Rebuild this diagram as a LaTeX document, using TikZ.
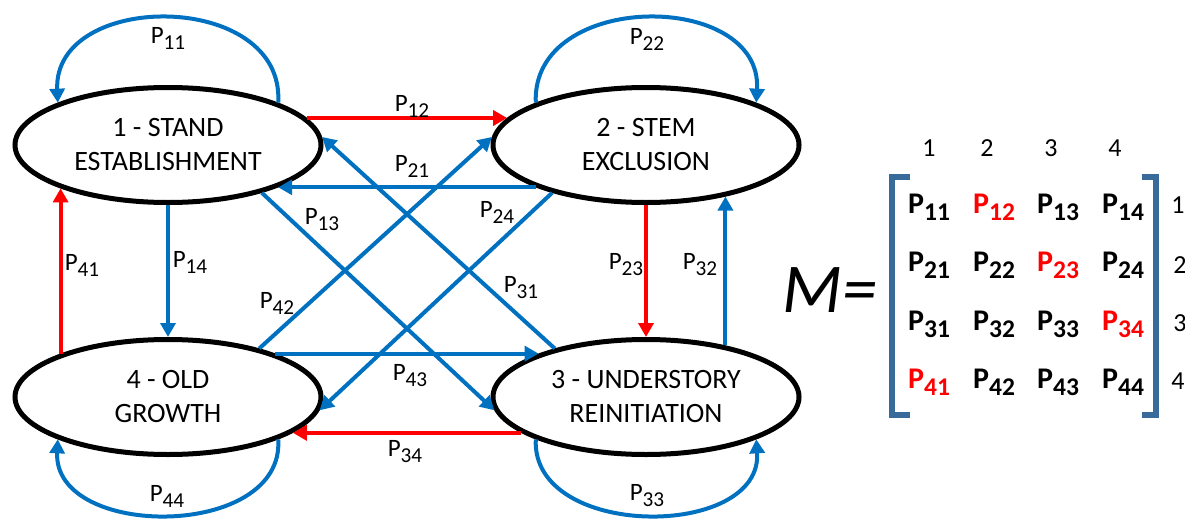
\documentclass[tikz,border=0pt]{standalone}
\usepackage{fontspec}
\setmainfont{Carlito}
\usepackage{tikz}
\usetikzlibrary{shapes,arrows.meta,positioning}
\definecolor{flowblue}{RGB}{0, 112, 192}
\definecolor{flowred}{RGB}{255, 0, 0}
\definecolor{bracketblue}{RGB}{56, 106, 154}

\newcommand{\pp}[1]{P\raisebox{-0.24em}{\scalebox{0.85}{#1}}}

\begin{document}
\begin{tikzpicture}[x=1pt, y=-1pt]
    \tikzstyle{state} = [draw=black, fill=white, line width=5pt, ellipse, minimum width=306pt, minimum height=115pt, inner sep=0pt, font=\fontsize{28}{34}\selectfont, align=center]
    \tikzstyle{plabel} = [font=\fontsize{25}{30}\selectfont, inner sep=0pt]
    \tikzstyle{barrow} = [line width=4pt, -{Triangle[length=14pt,width=15pt]}, flowblue]
    \tikzstyle{rarrow} = [line width=4pt, -{Triangle[length=14pt,width=15pt]}, flowred]
    \tikzstyle{entry} = [font=\fontsize{30}{36}\selectfont\bfseries, inner sep=0pt, anchor=base west]
    \tikzstyle{index} = [font=\fontsize{26}{30}\selectfont, inner sep=0pt]
    \tikzstyle{bracket} = [line width=6pt, bracketblue]

    \useasboundingbox (0,0) rectangle (1185,519);

    % states
    \node[state] (s1) at (168,145) {1 - STAND\\ESTABLISHMENT};
    \node[state] (s2) at (646,145) {2 - STEM\\EXCLUSION};
    \node[state] (s3) at (646,397) {3 - UNDERSTORY\\REINITIATION};
    \node[state] (s4) at (168,397) {4 - OLD\\GROWTH};

    % self loops
    \draw[barrow] (s1.21) .. controls (285,-10) and (53,-10) .. (s1.159);
    \draw[barrow] (s2.159) .. controls (531,-10) and (763,-10) .. (s2.21);
    \draw[barrow] (s3.201) .. controls (531,540) and (763,540) .. (s3.339);
    \draw[barrow] (s4.339) .. controls (285,540) and (53,540) .. (s4.201);

    % transitions
    \draw[rarrow] (s1.11) -- (s2.169);
    \draw[barrow] (s2.201) -- (s1.339);
    \draw[barrow] (s1.333) -- (s3.185);
    \draw[barrow] (s3.152) -- (s1.3);
    \draw[barrow] (s2.207) -- (s4.355);
    \draw[barrow] (s4.28) -- (s2.177);
    \draw[barrow] (s4.22) -- (s3.158);
    \draw[rarrow] (s3.196) -- (s4.344);
    \draw[barrow] (s1.270) -- (s4.90);
    \draw[rarrow] (s4.158) -- (s1.202);
    \draw[rarrow] (s2.270) -- (s3.90);
    \draw[barrow] (s3.33) -- (s2.327);

    % labels
    \node[plabel] (l11) at (168,38) {\pp{11}};
    \node[plabel] (l22) at (647,39) {\pp{22}};
    \node[plabel] (l33) at (647,496) {\pp{33}};
    \node[plabel] (l44) at (167,496) {\pp{44}};
    \node[plabel] (l12) at (412,106) {\pp{12}};
    \node[plabel] (l21) at (412,166) {\pp{21}};
    \node[plabel] (l13) at (322,220) {\pp{13}};
    \node[plabel] (l24) at (497,212) {\pp{24}};
    \node[plabel] (l41) at (82,265) {\pp{41}};
    \node[plabel] (l14) at (190,262) {\pp{14}};
    \node[plabel] (l42) at (277,303) {\pp{42}};
    \node[plabel] (l31) at (521,288) {\pp{31}};
    \node[plabel] (l23) at (626,265) {\pp{23}};
    \node[plabel] (l32) at (700,265) {\pp{32}};
    \node[plabel] (l43) at (410,376) {\pp{43}};
    \node[plabel] (l34) at (405,452) {\pp{34}};

    % matrix
    \node[inner sep=0pt, anchor=base west, font=\fontsize{70}{70}\selectfont\itshape] (meq) at (782,312) {M=};
    \draw[bracket] (910,177) -- (892,177) -- (892,415) -- (910,415);
    \draw[bracket] (1142,177) -- (1156,177) -- (1156,415) -- (1142,415);

    \node[index] (h1) at (929,148) {1};
    \node[index] (h2) at (987,148) {2};
    \node[index] (h3) at (1051,148) {3};
    \node[index] (h4) at (1115,148) {4};
    \node[index] (r1) at (1178,205) {1};
    \node[index] (r2) at (1180,265) {2};
    \node[index] (r3) at (1180,323) {3};
    \node[index] (r4) at (1178,381) {4};

    \node[entry] (m11) at (908,213) {\pp{11}};
    \node[entry, text=flowred] (m12) at (973,213) {\pp{12}};
    \node[entry] (m13) at (1037,213) {\pp{13}};
    \node[entry] (m14) at (1102,213) {\pp{14}};
    \node[entry] (m21) at (908,271) {\pp{21}};
    \node[entry] (m22) at (973,271) {\pp{22}};
    \node[entry, text=flowred] (m23) at (1037,271) {\pp{23}};
    \node[entry] (m24) at (1102,271) {\pp{24}};
    \node[entry] (m31) at (908,330) {\pp{31}};
    \node[entry] (m32) at (973,330) {\pp{32}};
    \node[entry] (m33) at (1037,330) {\pp{33}};
    \node[entry, text=flowred] (m34) at (1102,330) {\pp{34}};
    \node[entry, text=flowred] (m41) at (908,388) {\pp{41}};
    \node[entry] (m42) at (973,388) {\pp{42}};
    \node[entry] (m43) at (1037,388) {\pp{43}};
    \node[entry] (m44) at (1102,388) {\pp{44}};
\end{tikzpicture}
\end{document}
